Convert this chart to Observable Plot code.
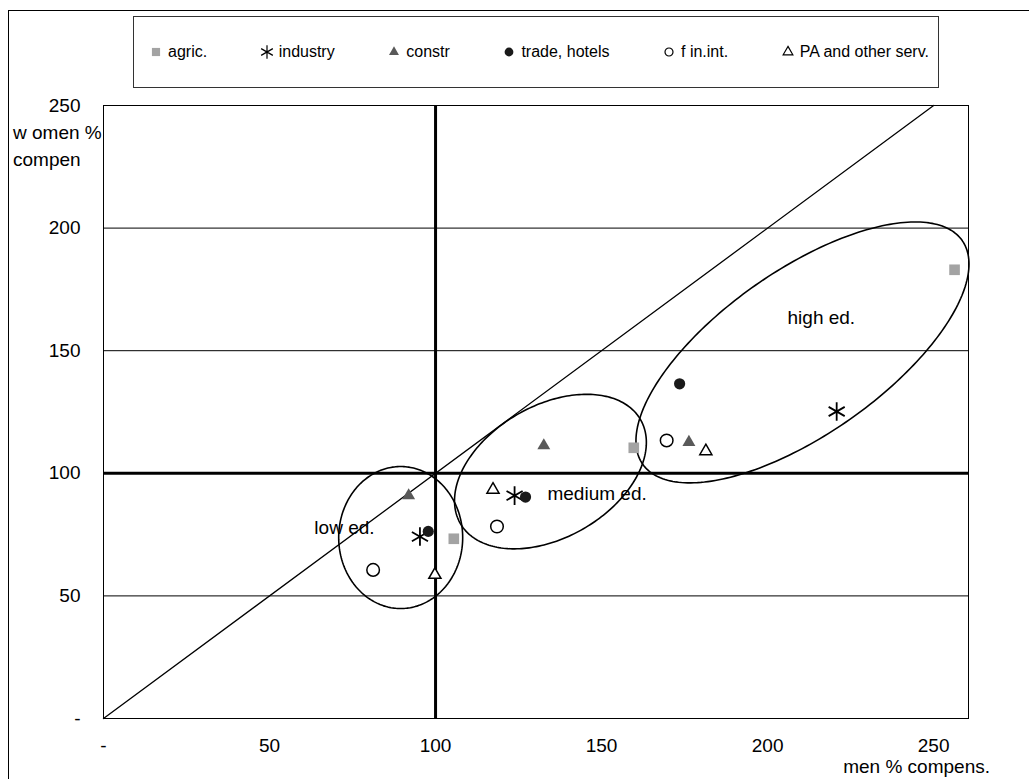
<!DOCTYPE html>
<html>
<head>
<meta charset="utf-8">
<script src="https://cdn.jsdelivr.net/npm/d3@7"></script>
<script src="https://cdn.jsdelivr.net/npm/@observablehq/plot@0.6"></script>
<style>
  body { margin: 0; background: #fff; font-family: "Liberation Sans", Arial, sans-serif; color: #000; }
  #chart { position: relative; width: 1029px; height: 779px; overflow: hidden; }
  #chart svg.plot { position: absolute; left: 0; top: 0; }
  #border { position: absolute; left: 8px; top: 10px; width: 1200px; height: 1000px; border: 1.3px solid #000; box-sizing: border-box; }
  #legend { position: absolute; left: 133px; top: 16px; width: 806px; height: 72px; border: 1px solid #333; box-sizing: border-box;
            display: flex; align-items: center; justify-content: space-between; padding: 0 9px 0 16px; font-size: 16px; background: #fff; }
  #legend .item { display: flex; align-items: center; white-space: pre; }
  #legend svg { margin-right: 6px; overflow: visible; }
  .ytitle { position: absolute; left: 13px; top: 119px; font-size: 19px; line-height: 27px; }
  .xtitle { position: absolute; right: 39px; top: 756px; font-size: 19px; }
</style>
</head>
<body>
<div id="chart">
  <div id="border"></div>
  <div id="legend"></div>
  <div class="ytitle">w omen %<br>compen</div>
  <div class="xtitle">men % compens.</div>
</div>
<script>
// Sectors (series) and education levels
const sectors = ["agric.", "industry", "constr", "trade, hotels", "f in.int.", "PA and other serv."];
const levels = ["low ed.", "medium ed.", "high ed."];

// Men's compensation index, by sector, for each education level
const menLow    = [105.5,  95.3,  91.9,  97.8,  81.2,  99.8];
const menMedium = [159.7, 123.8, 132.6, 127.1, 118.5, 117.3];
const menHigh   = [256.3, 220.8, 176.3, 173.5, 169.6, 181.4];

// Women's compensation index, by sector, for each education level
const womenLow    = [ 73.3,  74.2,  90.9,  76.3,  60.6,  58.6];
const womenMedium = [110.4,  90.9, 111.3,  90.3,  78.3,  93.3];
const womenHigh   = [183.0, 125.2, 112.7, 136.5, 113.4, 109.0];

// Axis ticks
const xTicks = [0, 50, 100, 150, 200, 250];
const yTicks = [0, 50, 100, 150, 200, 250];
const thinGrid = [50, 150, 200];
const reference = [100];   // parity level, drawn bold on both axes
const parity = [0, 250];   // the women = men diagonal

// Layout
const W = 1029, H = 779;
const mL = 103, mR = 61, mT = 105, mB = 61;
const xMax = 260.5, yMax = 250;
const kx = (W - mL - mR) / xMax;   // px per unit, x
const ky = (H - mT - mB) / yMax;   // px per unit, y

// Marker appearance per sector
const markerStyle = [
  {symbol: "square",   fill: "#a3a3a3", stroke: "none",  r: 6.0, lr: 4.6},
  {symbol: "asterisk", fill: "none",    stroke: "#000",  r: 8.8, lr: 6.4, sw: 1.8},
  {symbol: "triangle", fill: "#595959", stroke: "none",  r: 4.8, lr: 3.7},
  {symbol: "circle",   fill: "#1a1a1a", stroke: "none",  r: 5.6, lr: 4.4},
  {symbol: "circle",   fill: "#fff",    stroke: "#000",  r: 6.3, lr: 4.0, sw: 1.5},
  {symbol: "triangle", fill: "#fff",    stroke: "#000",  r: 4.5, lr: 3.6, sw: 1.5}
];

// Group outlines (centre in data units, semi-axes in px, tilt in degrees)
const groups = [
  {label: levels[0], cx: 89.5,  cy: 73.8,  a: 62,  b: 71, tilt: 0,  tx: 63.5,  ty: 77.9},
  {label: levels[1], cx: 134.6, cy: 100.7, a: 104, b: 66, tilt: 30, tx: 133.7, ty: 91.8},
  {label: levels[2], cx: 210.5, cy: 149.3, a: 195, b: 82, tilt: 35, tx: 206.0, ty: 163.5}
];

const rows = [];
[[menLow, womenLow], [menMedium, womenMedium], [menHigh, womenHigh]].forEach(([m, w], li) => {
  sectors.forEach((s, i) => rows.push({level: levels[li], sector: s, si: i, men: m[i], women: w[i]}));
});

function outline(g) {
  const th = g.tilt * Math.PI / 180, pts = [];
  for (let i = 0; i <= 240; i++) {
    const t = i / 240 * 2 * Math.PI;
    const u = g.a * Math.cos(t), v = g.b * Math.sin(t);
    pts.push({x: g.cx + (u * Math.cos(th) - v * Math.sin(th)) / kx,
              y: g.cy + (u * Math.sin(th) + v * Math.cos(th)) / ky});
  }
  return pts;
}

const fmt = d => d === 0 ? "-" : String(d);

const marks = [
  Plot.ruleY(thinGrid, {stroke: "#000", strokeWidth: 1}),
  Plot.frame({stroke: "#000", strokeWidth: 1}),
  Plot.line(parity, {x: d => d, y: d => d, stroke: "#000", strokeWidth: 1.3}),
  ...groups.map(g => Plot.line(outline(g), {x: "x", y: "y", stroke: "#000", strokeWidth: 1.6})),
  Plot.ruleY(reference, {stroke: "#000", strokeWidth: 3}),
  Plot.ruleX(reference, {stroke: "#000", strokeWidth: 3}),
  Plot.text(groups, {x: "tx", y: "ty", text: "label", textAnchor: "start", fontSize: 19, fill: "#000"}),
  ...markerStyle.map((st, i) => Plot.dot(rows.filter(d => d.si === i), {
    x: "men", y: "women", symbol: () => st.symbol, r: st.r,
    fill: st.fill, stroke: st.stroke, strokeWidth: st.sw || 1
  })),
  Plot.axisX(xTicks, {anchor: "bottom", tickSize: 0, tickPadding: 20, tickFormat: fmt, fontSize: 19, label: null}),
  Plot.axisY(yTicks, {anchor: "left", tickSize: 0, tickPadding: 23, tickFormat: fmt, fontSize: 19, label: null})
];

const chart = Plot.plot({
  width: W, height: H,
  marginLeft: mL, marginRight: mR, marginTop: mT, marginBottom: mB,
  x: {domain: [0, xMax]},
  y: {domain: [0, yMax]},
  symbol: {type: "identity"},
  style: {fontFamily: '"Liberation Sans", Arial, sans-serif', fontSize: "19px", color: "#000", background: "transparent", overflow: "visible"},
  marks
});
chart.classList.add("plot");
document.getElementById("chart").insertBefore(chart, document.getElementById("legend"));

// Legend
const legend = d3.select("#legend");
sectors.forEach((s, i) => {
  const st = markerStyle[i];
  const item = legend.append("div").attr("class", "item");
  const svg = item.append("svg").attr("width", 12).attr("height", 14);
  svg.append("path")
    .attr("transform", "translate(6,7)")
    .attr("d", d3.symbol(st.symbol === "square" ? d3.symbolSquare : st.symbol === "asterisk" ? d3.symbolAsterisk :
                         st.symbol === "triangle" ? d3.symbolTriangle : d3.symbolCircle, Math.PI * st.lr * st.lr)())
    .attr("fill", st.fill).attr("stroke", st.stroke).attr("stroke-width", st.sw ? 1.2 : 0);
  item.append("span").text(s);
});
</script>
</body>
</html>
